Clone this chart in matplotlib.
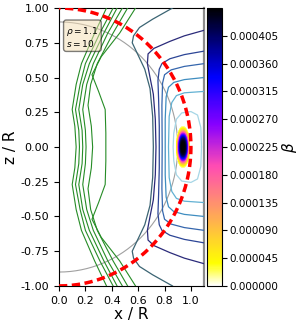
import numpy as np
import matplotlib
matplotlib.use("Agg")
import matplotlib.pyplot as plt
from matplotlib import colors, cm
from matplotlib.ticker import FormatStrFormatter

# --- beta blob ---
beta_peak = 0.00045
beta_x0 = 0.94
beta_z0 = 0.0
beta_wx = 0.032
beta_wz = 0.09
beta_power = 2          # flat-topped profile
beta_ticks = [0.0, 0.000045, 0.00009, 0.000135, 0.00018,
              0.000225, 0.00027, 0.000315, 0.00036, 0.000405]

# --- field lines, upper half only (x, z), mirrored about z = 0 ---
blue_lines = [
    [(0.86, 1.0), (0.71, 0.92), (0.61, 0.86), (0.565, 0.80), (0.555, 0.75),
     (0.59, 0.68), (0.65, 0.56), (0.69, 0.42), (0.71, 0.22), (0.715, 0.0)],
    [(1.1, 0.84), (0.95, 0.80), (0.84, 0.76), (0.72, 0.71), (0.675, 0.67),
     (0.67, 0.60), (0.69, 0.50), (0.715, 0.38), (0.73, 0.2), (0.735, 0.0)],
    [(1.1, 0.69), (0.95, 0.665), (0.84, 0.635), (0.78, 0.60), (0.76, 0.56),
     (0.75, 0.48), (0.755, 0.34), (0.76, 0.15), (0.76, 0.0)],
    [(1.1, 0.60), (0.95, 0.58), (0.85, 0.555), (0.80, 0.52), (0.785, 0.46),
     (0.78, 0.30), (0.782, 0.0)],
    [(1.1, 0.50), (0.95, 0.485), (0.87, 0.465), (0.83, 0.43), (0.812, 0.36),
     (0.805, 0.2), (0.805, 0.0)],
    [(1.1, 0.40), (0.95, 0.39), (0.89, 0.37), (0.855, 0.32), (0.835, 0.22),
     (0.83, 0.0)],
    # innermost one closes on itself near the right edge
    [(1.08, 0.0), (1.075, 0.14), (1.05, 0.23), (1.0, 0.255), (0.93, 0.245),
     (0.89, 0.2), (0.87, 0.1), (0.865, 0.0)],
]
blue_colors = ['#3b6473', '#2b2b7a', '#2c4596', '#3566ad', '#3f8dc0',
               '#62b1d3', '#a6d6e6']

green_lines = [
    [(0.36, 1.0), (0.27, 0.82), (0.17, 0.6), (0.13, 0.45), (0.10, 0.27),
     (0.12, 0.15), (0.13, 0.0)],
    [(0.41, 1.0), (0.31, 0.82), (0.20, 0.6), (0.16, 0.45), (0.125, 0.27),
     (0.15, 0.12), (0.155, 0.0)],
    [(0.44, 1.0), (0.34, 0.82), (0.23, 0.6), (0.18, 0.45), (0.15, 0.27),
     (0.175, 0.12), (0.18, 0.0)],
    [(0.48, 1.0), (0.37, 0.82), (0.26, 0.6), (0.21, 0.45), (0.18, 0.27),
     (0.20, 0.12), (0.205, 0.0)],
    [(0.52, 1.0), (0.41, 0.82), (0.29, 0.6), (0.24, 0.45), (0.22, 0.3),
     (0.245, 0.15), (0.255, 0.0)],
    [(0.58, 1.0), (0.46, 0.82), (0.32, 0.65), (0.25, 0.52), (0.30, 0.40),
     (0.35, 0.27), (0.355, 0.1), (0.355, 0.0)],
]
green_color = '#268c26'

rho_text = r'$\rho = 1.1$' + '\n' + r'$s = 10$'


def mirrored(points):
    """Upper-half points -> full line through z = 0 and back out."""
    pts = np.array(points)
    low = pts[-2::-1] * np.array([1, -1])
    full = np.vstack([pts, low])
    return full[:, 0], full[:, 1]


fig = plt.figure(figsize=(2.98, 3.22), dpi=100)
ax = fig.add_axes([0.198, 0.112, 0.487, 0.863])
cax = fig.add_axes([0.695, 0.112, 0.05, 0.863])

# grey circle and red dashed unit circle
theta = np.linspace(-np.pi / 2, np.pi / 2, 200)
ax.plot(0.9 * np.cos(theta), 0.9 * np.sin(theta), color='#a0a0a0', lw=0.8, zorder=2)

for line in green_lines:
    gx, gz = mirrored(line)
    ax.plot(gx, gz, color=green_color, lw=0.8, zorder=3)

for line, c in zip(blue_lines, blue_colors):
    bx, bz = mirrored(line)
    ax.plot(bx, bz, color=c, lw=0.9, zorder=3)

# beta blob
xg = np.linspace(0.8, 1.1, 300)
zg = np.linspace(-0.4, 0.4, 400)
X, Z = np.meshgrid(xg, zg)
r2 = ((X - beta_x0) / beta_wx) ** 2 + ((Z - beta_z0) / beta_wz) ** 2
beta = beta_peak * np.exp(-0.5 * r2 ** beta_power)
norm = colors.Normalize(vmin=0.0, vmax=beta_peak)
levels = np.linspace(0.000012, beta_peak, 100)
ax.contourf(X, Z, beta, levels=levels, cmap='gnuplot2_r', norm=norm, zorder=4)

ax.plot(np.cos(theta), np.sin(theta), color='red', lw=2.5, ls=(0, (2.4, 1.3)), zorder=5)

ax.text(0.05, 0.94, rho_text, transform=ax.transAxes, fontsize=6.5, va='top',
        linespacing=1.0,
        bbox=dict(boxstyle='round', facecolor='wheat', alpha=0.5), zorder=6)

ax.set_xlim(0, 1.1)
ax.set_ylim(-1, 1)
ax.set_xticks([0.0, 0.2, 0.4, 0.6, 0.8, 1.0])
ax.set_yticks([-1.0, -0.75, -0.5, -0.25, 0.0, 0.25, 0.5, 0.75, 1.0])
ax.yaxis.set_major_formatter(FormatStrFormatter('%.2f'))
ax.tick_params(labelsize=8)
ax.spines['right'].set_color('#8c8c8c')
ax.spines['right'].set_linewidth(1.6)
ax.set_xlabel('x / R', fontsize=11, labelpad=1)
ax.set_ylabel('z / R', fontsize=11, labelpad=2)

sm = cm.ScalarMappable(norm=norm, cmap='gnuplot2_r')
cb = fig.colorbar(sm, cax=cax, ticks=beta_ticks, format='%.6f')
cb.ax.tick_params(labelsize=7.5, pad=2)
cb.set_label(r'$\beta$', fontsize=11, labelpad=1)

fig.savefig('out.png', dpi=100)
